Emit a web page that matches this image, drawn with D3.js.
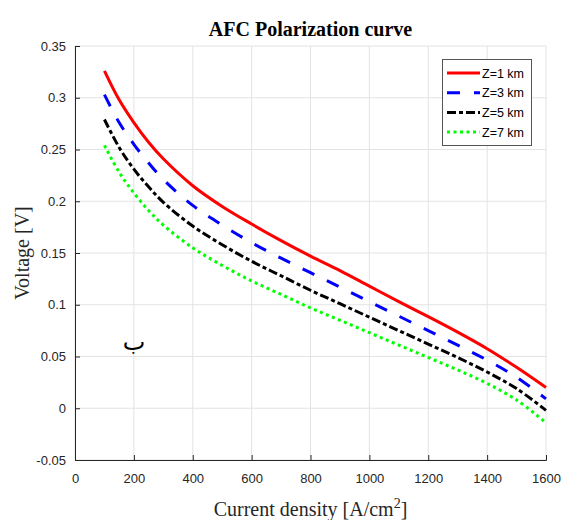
<!DOCTYPE html>
<html>
<head>
<meta charset="utf-8">
<script src="https://cdn.jsdelivr.net/npm/d3@7"></script>
<style>
  html, body { margin: 0; padding: 0; background: #fff; }
  svg { display: block; }
</style>
</head>
<body>
<svg id="chart" width="561" height="520"></svg>
<script>
// current density samples (A/cm^2)
const current = [100, 150, 200, 250, 300, 400, 500, 600, 700, 800, 900, 1000, 1100, 1200, 1300, 1400, 1500, 1600];

// voltage, one array per altitude
const z1 = [0.326, 0.298, 0.276, 0.257, 0.241, 0.215, 0.195, 0.178, 0.162, 0.147, 0.133, 0.118, 0.103, 0.0885, 0.0735, 0.0575, 0.0395, 0.020];
const z3 = [0.303, 0.276, 0.255, 0.237, 0.221, 0.196, 0.177, 0.160, 0.145, 0.131, 0.117, 0.103, 0.089, 0.075, 0.061, 0.0465, 0.030, 0.009];
const z5 = [0.279, 0.252, 0.231, 0.214, 0.199, 0.176, 0.158, 0.142, 0.128, 0.114, 0.101, 0.088, 0.075, 0.062, 0.049, 0.035, 0.019, -0.002];
const z7 = [0.254, 0.228, 0.208, 0.191, 0.177, 0.155, 0.138, 0.123, 0.110, 0.097, 0.085, 0.073, 0.061, 0.049, 0.037, 0.024, 0.008, -0.014];

const seriesNames = ['Z=1 km', 'Z=3 km', 'Z=5 km', 'Z=7 km'];
const xTicks = [0, 200, 400, 600, 800, 1000, 1200, 1400, 1600];
const yTicks = [-0.05, 0, 0.05, 0.1, 0.15, 0.2, 0.25, 0.3, 0.35];

const styles = [
  { color: '#ff0000', dash: null },
  { color: '#0000ff', dash: '13,14' },
  { color: '#000000', dash: '9,3,4,3' },
  { color: '#00ff00', dash: '3,3.5' },
];

const svg = d3.select('#chart');
const plotLeft = 75, plotRight = 546, plotTop = 46, plotBottom = 460;

const x = d3.scaleLinear().domain([0, 1600]).range([plotLeft, plotRight]);
const y = d3.scaleLinear().domain([-0.05, 0.35]).range([plotBottom, plotTop]);

const axisColor = '#262626';
const gridColor = '#e3e3e3';

// grid
svg.append('g')
  .selectAll('line')
  .data(xTicks)
  .enter()
  .append('line')
  .attr('x1', d => x(d)).attr('x2', d => x(d))
  .attr('y1', plotTop).attr('y2', plotBottom)
  .attr('stroke', gridColor);

svg.append('g')
  .selectAll('line')
  .data(yTicks)
  .enter()
  .append('line')
  .attr('x1', plotLeft).attr('x2', plotRight)
  .attr('y1', d => y(d)).attr('y2', d => y(d))
  .attr('stroke', gridColor);

// axes, ticks pointing inward like matlab
const xAxis = svg.append('g')
  .attr('transform', `translate(0,${plotBottom})`)
  .call(d3.axisBottom(x).tickValues(xTicks).tickSize(-5).tickPadding(14).tickFormat(d3.format('d')));

const yAxis = svg.append('g')
  .attr('transform', `translate(${plotLeft},0)`)
  .call(d3.axisLeft(y).tickValues(yTicks).tickSize(-5).tickPadding(9).tickFormat(d => d === 0 ? '0' : String(+d.toFixed(2))));

[xAxis, yAxis].forEach(a => {
  a.select('.domain').attr('stroke', axisColor);
  a.selectAll('.tick line').attr('stroke', axisColor);
  a.selectAll('.tick text')
    .attr('fill', axisColor)
    .style('font-family', '"Liberation Sans", Arial, sans-serif')
    .style('font-size', '13px');
});

// curves
const line = d3.line()
  .x((d, i) => x(current[i]))
  .y(d => y(d))
  .curve(d3.curveCatmullRom.alpha(0.5));

const allSeries = [z1, z3, z5, z7];

svg.append('g')
  .selectAll('path')
  .data(allSeries)
  .enter()
  .append('path')
  .attr('d', d => line(d))
  .attr('fill', 'none')
  .attr('stroke', (d, i) => styles[i].color)
  .attr('stroke-width', 3)
  .attr('stroke-dasharray', (d, i) => styles[i].dash);

// stray arabic letter sitting in the plot
svg.append('text')
  .attr('x', 134)
  .attr('y', 350)
  .attr('text-anchor', 'middle')
  .style('font-family', '"DejaVu Serif", "DejaVu Sans", serif')
  .style('font-size', '24px')
  .attr('fill', '#000')
  .text('ب');

// legend
const legend = svg.append('g');
legend.append('rect')
  .attr('x', 442.5).attr('y', 59.5)
  .attr('width', 89).attr('height', 86)
  .attr('fill', '#fff')
  .attr('stroke', '#555')
  .attr('stroke-width', 1);

const rows = legend.selectAll('g.row')
  .data(seriesNames)
  .enter()
  .append('g')
  .attr('class', 'row')
  .attr('transform', (d, i) => `translate(0,${73 + i * 19.7})`);

rows.append('line')
  .attr('x1', 447).attr('x2', 480)
  .attr('y1', 0).attr('y2', 0)
  .attr('stroke', (d, i) => styles[i].color)
  .attr('stroke-width', 3)
  .attr('stroke-dasharray', (d, i) => styles[i].dash);

rows.append('text')
  .attr('x', 482)
  .attr('y', 4.5)
  .style('font-family', '"Liberation Sans", Arial, sans-serif')
  .style('font-size', '12.5px')
  .attr('fill', '#000')
  .text(d => d);

// title and axis labels
svg.append('text')
  .attr('x', (plotLeft + plotRight) / 2)
  .attr('y', 36)
  .attr('text-anchor', 'middle')
  .style('font-family', '"Liberation Serif", "Times New Roman", serif')
  .style('font-weight', 'bold')
  .style('font-size', '20px')
  .attr('fill', '#000')
  .text('AFC Polarization curve');

svg.append('text')
  .attr('transform', `translate(29,${(plotTop + plotBottom) / 2}) rotate(-90)`)
  .attr('text-anchor', 'middle')
  .style('font-family', '"Liberation Serif", "Times New Roman", serif')
  .style('font-size', '20px')
  .attr('fill', '#262626')
  .text('Voltage [V]');

const xLabel = svg.append('text')
  .attr('x', (plotLeft + plotRight) / 2)
  .attr('y', 516)
  .attr('text-anchor', 'middle')
  .style('font-family', '"Liberation Serif", "Times New Roman", serif')
  .style('font-size', '20px')
  .attr('fill', '#262626');
xLabel.append('tspan').text('Current density [A/cm');
xLabel.append('tspan').attr('dy', -8).style('font-size', '14px').text('2');
xLabel.append('tspan').attr('dy', 8).text(']');
</script>
</body>
</html>
